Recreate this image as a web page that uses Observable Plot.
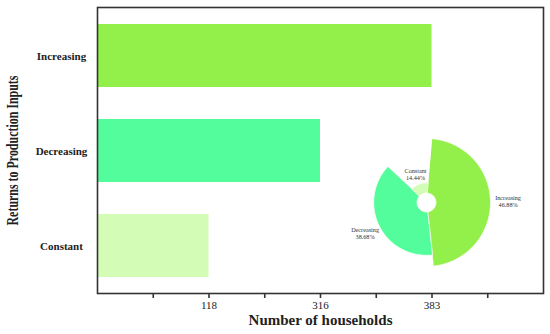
<!DOCTYPE html>
<html><head><meta charset="utf-8">
<script src="https://cdn.jsdelivr.net/npm/d3@7"></script>
<script src="https://cdn.jsdelivr.net/npm/@observablehq/plot@0.6"></script>
<style>
body{margin:0;background:#fff}
#wrap{position:relative;width:550px;height:334px}
#inset{position:absolute;left:316px;top:122px;pointer-events:none}
</style>
</head><body><div id="wrap"><div id="main"></div><div id="inset"></div></div>
<script>
// ---- data ----
const categories = ["Increasing", "Decreasing", "Constant"];
const households = [383, 316, 118];
const colors = ["#93EF49", "#54FD9B", "#D3FCB6"];
const xTickLabels = ["118", "316", "383"];
const xTitle = "Number of households";
const yTitle = "Returns to Production Inputs";

const serif = "'Liberation Serif','Times New Roman',Times,serif";

// bar end = ordinal position of its tick label on the categorical axis
const rows = categories.map((c, i) => ({
  cat: c, n: households[i],
  pos: 2 * (xTickLabels.indexOf(String(households[i])) + 1)
}));

const main = Plot.plot({
  width: 550, height: 334,
  marginLeft: 97, marginRight: 7, marginTop: 7, marginBottom: 41,
  style: {fontFamily: serif, background: "#fff", color: "#222"},
  x: {domain: [0, 8], axis: null},
  y: {domain: categories, paddingInner: 0.34, paddingOuter: 0.17, axis: null},
  color: {domain: categories, range: colors},
  marks: [
    Plot.barX(rows, {x1: 0, x2: "pos", y: "cat", fill: "cat"}),
    Plot.axisX({
      ticks: d3.range(1, 8),
      tickFormat: d => d % 2 === 0 ? xTickLabels[d / 2 - 1] : "",
      tickSize: 5, tickPadding: 3, fontSize: 11,
      stroke: "#333", strokeWidth: 1.6, label: null
    }),
    Plot.axisY({tickSize: 0, tickPadding: 36, textAnchor: "middle",
      fontSize: 11, fontWeight: "bold", label: null}),
    Plot.frame({stroke: "#333", strokeWidth: 1.6}),
    Plot.text([xTitle], {text: d => d, frameAnchor: "bottom", dy: 31,
      fontSize: 15, fontWeight: "bold"}),
    Plot.text([yTitle], {text: d => d, frameAnchor: "left", dx: -85, rotate: -90,
      textAnchor: "middle", fontSize: 16, fontWeight: "bold"})
  ]
});
document.getElementById("main").appendChild(main);
d3.select(main).selectAll("text").filter(function() { return this.textContent === yTitle; })
  .attr("textLength", 150).attr("lengthAdjust", "spacingAndGlyphs");

// ---- inset rose pie ----
const total = d3.sum(households);
const pieStartDeg = 5;
const a0 = pieStartDeg * Math.PI / 180;
const arcs = d3.pie().sort(null).startAngle(a0).endAngle(a0 + 2 * Math.PI)(households);
const radiusPerPct = 1.365, innerR = 9.5, steps = 80;
const polys = [], labels = [];
arcs.forEach((p, i) => {
  const pct = households[i] / total * 100;
  const r = pct * radiusPerPct;
  for (let k = 0; k <= steps; k++) {
    const a = p.startAngle + (p.endAngle - p.startAngle) * k / steps;
    polys.push({cat: categories[i], x: r * Math.sin(a), y: r * Math.cos(a)});
  }
  for (let k = steps; k >= 0; k--) {
    const a = p.startAngle + (p.endAngle - p.startAngle) * k / steps;
    polys.push({cat: categories[i], x: innerR * Math.sin(a), y: innerR * Math.cos(a)});
  }
  const mid = (p.startAngle + p.endAngle) / 2, lr = r * 1.15 + 8;
  labels.push({x: lr * Math.sin(mid), y: lr * Math.cos(mid),
    text: categories[i] + "\n" + pct.toFixed(2) + "%"});
});

const inset = Plot.plot({
  width: 220, height: 160, margin: 0,
  style: {fontFamily: serif, background: "transparent"},
  x: {domain: [-110, 110], axis: null},
  y: {domain: [-80, 80], axis: null},
  color: {domain: categories, range: colors},
  marks: [
    Plot.line(polys, {x: "x", y: "y", z: "cat", fill: "cat", stroke: "white",
      strokeWidth: 0.7, curve: "linear-closed"}),
    Plot.text(labels, {x: "x", y: "y", text: "text", fontSize: 6.2,
      lineHeight: 1.15, fill: "#333"})
  ]
});
document.getElementById("inset").appendChild(inset);
</script>
</body></html>
